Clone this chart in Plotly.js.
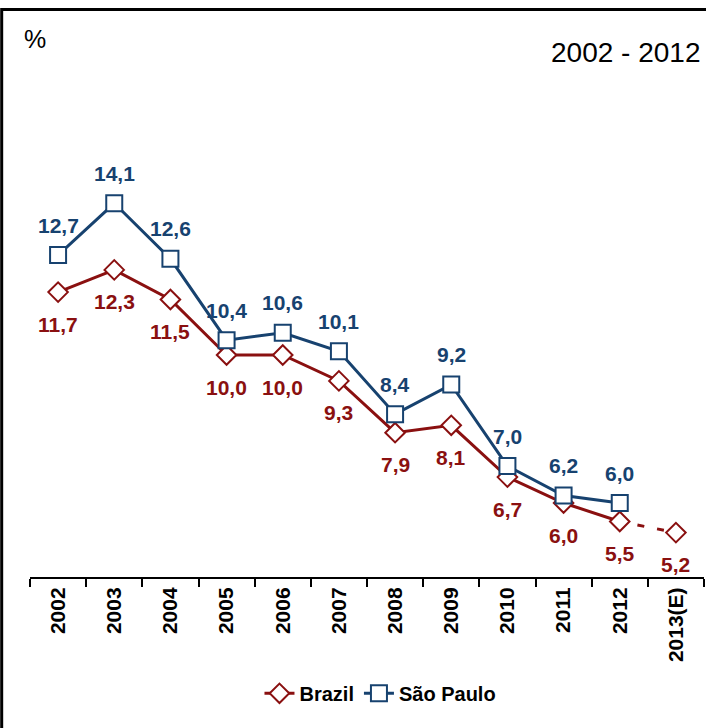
<!DOCTYPE html>
<html>
<head>
<meta charset="utf-8">
<script src="https://cdn.plot.ly/plotly-3.0.1.min.js"></script>
<style>html,body{margin:0;padding:0;background:#fff;}#chart{width:706px;height:728px;}</style>
</head>
<body>
<div id="chart"></div>
<script>
const categories = ["2002","2003","2004","2005","2006","2007","2008","2009","2010","2011","2012","2013(E)"];
const brazilYears = ["2002","2003","2004","2005","2006","2007","2008","2009","2010","2011","2012"];
const brazilValues = [11.7, 12.3, 11.5, 10.0, 10.0, 9.3, 7.9, 8.1, 6.7, 6.0, 5.5];
const brazilEstYears = ["2012","2013(E)"];
const brazilEstValues = [5.5, 5.2];
const spYears = ["2002","2003","2004","2005","2006","2007","2008","2009","2010","2011","2012"];
const spValues = [12.7, 14.1, 12.6, 10.4, 10.6, 10.1, 8.4, 9.2, 7.0, 6.2, 6.0];

const RED = "#8A1010";
const BLUE = "#17426F";
const FONT = "Arial, 'Liberation Sans', sans-serif";
const fmt = v => v.toFixed(1).replace(".", ",");

const traces = [
  {
    x: brazilYears, y: brazilValues, name: "Brazil", type: "scatter", mode: "lines+markers",
    line: {color: RED, width: 3},
    marker: {symbol: "diamond", size: 15, color: "#ffffff", line: {color: RED, width: 2}},
    cliponaxis: false
  },
  {
    x: brazilEstYears, y: brazilEstValues, name: "Brazil (E)", type: "scatter", mode: "lines+markers",
    line: {color: RED, width: 3, dash: "0px,18px,7px,13px,7px,100px"},
    marker: {symbol: "diamond", size: 15, color: "#ffffff", line: {color: RED, width: 2}, opacity: [0, 1]},
    showlegend: false, cliponaxis: false
  },
  {
    x: spYears, y: spValues, name: "São Paulo", type: "scatter", mode: "lines+markers",
    line: {color: BLUE, width: 3},
    marker: {symbol: "square", size: 16, color: "#ffffff", line: {color: BLUE, width: 2}},
    cliponaxis: false
  }
];

const annotations = [];
const allBrazilX = brazilYears.concat([brazilEstYears[1]]);
const allBrazilY = brazilValues.concat([brazilEstValues[1]]);
allBrazilX.forEach((x, i) => {
  annotations.push({x: categories.indexOf(x), y: allBrazilY[i], xref: "x", yref: "y", text: "<b>" + fmt(allBrazilY[i]) + "</b>",
    showarrow: false, yshift: -32, font: {family: FONT, size: 21, color: RED}});
});
spYears.forEach((x, i) => {
  annotations.push({x: categories.indexOf(x), y: spValues[i], xref: "x", yref: "y", text: "<b>" + fmt(spValues[i]) + "</b>",
    showarrow: false, yshift: 30, font: {family: FONT, size: 21, color: BLUE}});
});
annotations.push({xref: "paper", yref: "paper", x: -0.012, y: 1.212, xanchor: "left", yanchor: "middle",
  text: "%", showarrow: false, font: {family: FONT, size: 25, color: "#000"}});
annotations.push({xref: "paper", yref: "paper", x: 0.997, y: 1.182, xanchor: "right", yanchor: "middle",
  text: "2002 - 2012", showarrow: false, font: {family: FONT, size: 28, color: "#000"}});

const layout = {
  width: 706, height: 728,
  margin: {l: 30, r: 2, t: 133, b: 151},
  paper_bgcolor: "#ffffff", plot_bgcolor: "#ffffff",
  font: {family: FONT, color: "#000"},
  showlegend: true,
  legend: {orientation: "h", x: 0.52, xanchor: "center", y: -0.262, yanchor: "middle",
    font: {family: FONT, size: 20, color: "#000", weight: "bold"}, itemclick: false, traceorder: "normal"},
  xaxis: {
    type: "category", categoryorder: "array", categoryarray: categories,
    range: [-0.5, 11.5], showgrid: false, zeroline: false,
    showline: true, linecolor: "#000", linewidth: 2,
    ticks: "outside", tickson: "boundaries", ticklen: 8, tickcolor: "#000", tickwidth: 2,
    tickangle: -90, tickfont: {family: FONT, size: 21, color: "#000", weight: "bold"}
  },
  yaxis: {range: [4, 16], visible: false, showgrid: false, zeroline: false},
  annotations: annotations,
  shapes: [{type: "rect", xref: "paper", yref: "paper", x0: -0.042, x1: 1.05, y0: -0.4, y1: 1.278,
    line: {color: "#000", width: 3}, fillcolor: "rgba(0,0,0,0)", layer: "above"}]
};

Plotly.newPlot("chart", traces, layout, {displayModeBar: false, staticPlot: true});
</script>
</body>
</html>
